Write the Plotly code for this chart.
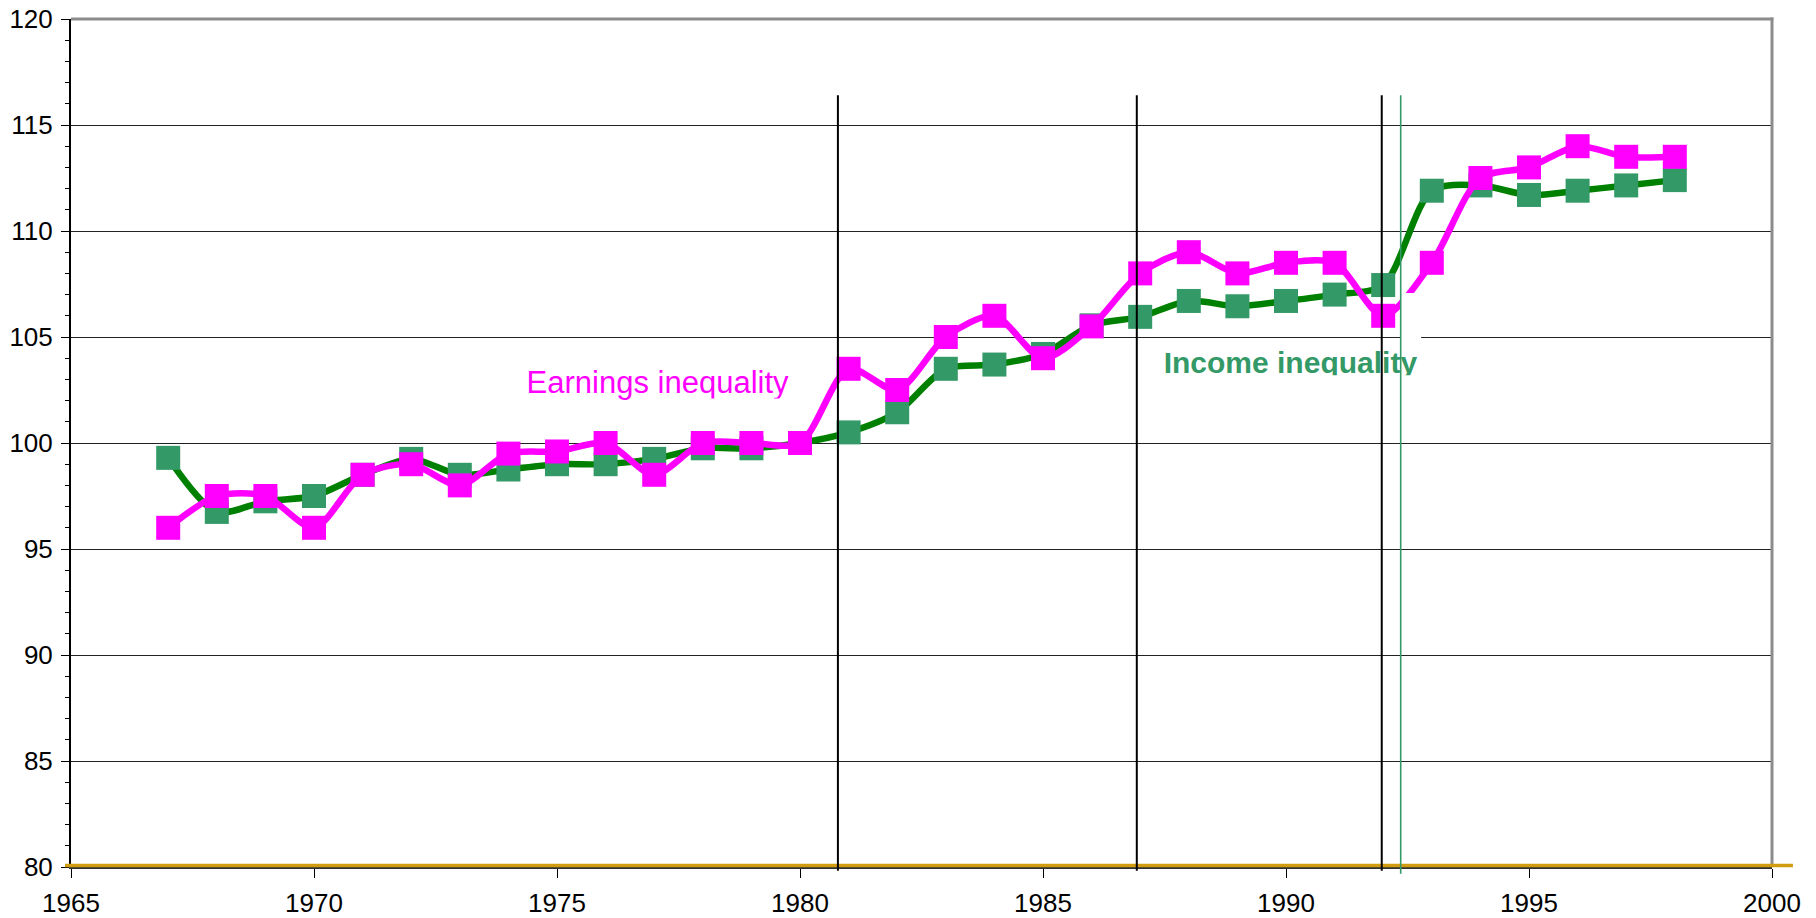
import plotly.graph_objects as go

# ---- data ----
years = list(range(1967, 1999))
income_inequality = [99.3, 96.75, 97.25, 97.5, 98.5, 99.25, 98.5, 98.75, 99.0, 99.0,
                     99.25, 99.75, 99.75, 100.0, 100.5, 101.45, 103.5, 103.7, 104.2, 105.55,
                     105.95, 106.7, 106.45, 106.7, 107.0, 107.45, 111.9, 112.15, 111.7, 111.9,
                     112.15, 112.4]
earnings_inequality = [96.0, 97.5, 97.5, 96.0, 98.5, 99.0, 98.0, 99.5, 99.6, 100.0,
                       98.5, 100.0, 100.0, 100.0, 103.5, 102.5, 105.0, 106.0, 104.0, 105.5,
                       108.0, 109.0, 108.0, 108.5, 108.5, 106.0, 108.5, 112.5, 113.0, 114.0,
                       113.5, 113.5]
event_years_black = [1980.78, 1986.93, 1991.97]
event_year_green = [1992.36]
label_texts = ["Earnings inequality", "Income inequality"]

FONT = "Liberation Sans, Arial, sans-serif"
GREEN_LINE = "#008000"
GREEN_MARK = "#339966"
PINK = "#FF00FF"

fig = go.Figure()

fig.add_trace(go.Scatter(
    x=years, y=income_inequality, mode="lines+markers",
    line=dict(color=GREEN_LINE, width=6.5, shape="spline", smoothing=0.8),
    marker=dict(symbol="square", size=24, color=GREEN_MARK, line=dict(width=0)),
    showlegend=False, hoverinfo="skip"))

fig.add_trace(go.Scatter(
    x=years, y=earnings_inequality, mode="lines+markers",
    line=dict(color=PINK, width=6.5, shape="spline", smoothing=0.8),
    marker=dict(symbol="square", size=24, color=PINK, line=dict(width=0)),
    showlegend=False, hoverinfo="skip"))

# text labels (as text traces so that white strips can clip their descenders)
fig.add_trace(go.Scatter(
    x=[1977.07], y=[102.74], mode="text", text=[label_texts[0]],
    textposition="middle center",
    textfont=dict(family=FONT, size=31, color=PINK),
    showlegend=False, hoverinfo="skip"))
fig.add_trace(go.Scatter(
    x=[1990.09], y=[103.66], mode="text", text=["<b>" + label_texts[1] + "</b>"],
    textposition="middle center",
    textfont=dict(family=FONT, size=30, color=GREEN_MARK),
    showlegend=False, hoverinfo="skip"))

shapes = []
# white box near 1992-1993
shapes.append(dict(type="rect", xref="x", yref="y", x0=1992.35, x1=1992.78, y0=104.62, y1=107.08,
                   fillcolor="white", line=dict(width=0), layer="above"))
# white strips clipping text descenders
shapes.append(dict(type="rect", xref="x", yref="y", x0=1976.7, x1=1979.85, y0=101.8, y1=102.1,
                   fillcolor="white", line=dict(width=0), layer="above"))
shapes.append(dict(type="rect", xref="x", yref="y", x0=1987.35, x1=1992.9, y0=102.8, y1=103.2,
                   fillcolor="white", line=dict(width=0), layer="above"))
# top/right grey border
shapes.append(dict(type="line", xref="paper", yref="paper", x0=0, x1=1.0008, y0=1, y1=1,
                   line=dict(color="#8c8c8c", width=3), layer="above"))
shapes.append(dict(type="line", xref="paper", yref="paper", x0=1, x1=1, y0=0, y1=1.0017,
                   line=dict(color="#8c8c8c", width=3), layer="above"))
# gold baseline
shapes.append(dict(type="line", xref="paper", yref="paper", x0=-0.0035, x1=1.0123, y0=0.0018, y1=0.0018,
                   line=dict(color="#D09C10", width=3.5), layer="above"))
# vertical event lines
for xv in event_years_black:
    shapes.append(dict(type="line", xref="x", yref="paper", x0=xv, x1=xv, y0=-0.0044, y1=0.91,
                       line=dict(color="black", width=2), layer="above"))
for xv in event_year_green:
    shapes.append(dict(type="line", xref="x", yref="paper", x0=xv, x1=xv, y0=-0.008, y1=0.91,
                       line=dict(color=GREEN_MARK, width=1.6), layer="above"))

fig.update_layout(
    width=1816, height=918, autosize=False,
    margin=dict(l=71, r=44, t=19, b=51, pad=0, autoexpand=False),
    paper_bgcolor="white", plot_bgcolor="white",
    font=dict(family=FONT, size=26, color="black"),
    shapes=shapes,
    showlegend=False,
)
fig.update_xaxes(
    range=[1965, 2000], tick0=1965, dtick=5, ticks="outside", ticklen=9, tickwidth=1,
    tickcolor="black", showline=True, linecolor="#333333", linewidth=2, automargin=False,
    ticklabelstandoff=3,
    showgrid=False, zeroline=False, tickfont=dict(family=FONT, size=26, color="black"))
fig.update_yaxes(
    range=[80, 120], tick0=80, dtick=5, ticks="outside", ticklen=8, tickwidth=1,
    tickcolor="black", showline=True, linecolor="black", linewidth=2, automargin=False,
    ticklabelstandoff=3,
    showgrid=True, gridcolor="#222222", gridwidth=1, zeroline=False,
    minor=dict(dtick=1, ticks="outside", ticklen=4, tickcolor="black", showgrid=False),
    tickfont=dict(family=FONT, size=26, color="black"))

fig.write_html("out.html", config={"displayModeBar": False},
               post_script="document.body.style.margin='0';")
